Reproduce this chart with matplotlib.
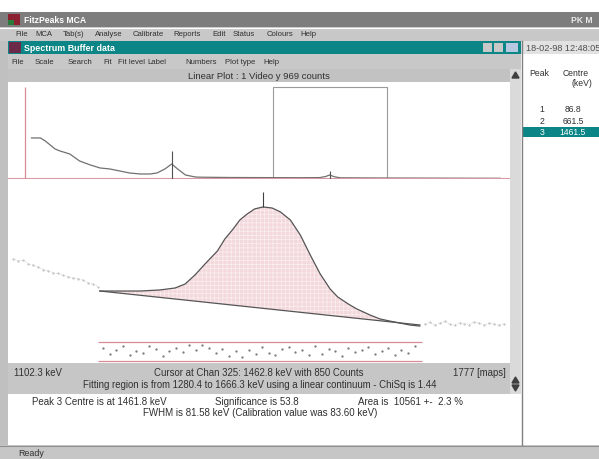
import matplotlib
matplotlib.use("Agg")
import matplotlib.pyplot as plt
from matplotlib.patches import Rectangle, Polygon
import numpy as np

W, H = 599, 460

# overview spectrum (channel, counts)
spec_chan = [24, 33, 38, 48, 53, 63, 73, 84, 94, 104, 114, 124, 135, 145, 152, 160,
             167, 173, 181, 191, 196, 226, 257, 298, 318, 324, 328, 333, 339, 380, 420, 461, 502]
spec_counts = [410, 410, 380, 300, 280, 250, 180, 140, 110, 100, 80, 60, 50, 50, 60, 100,
               150, 100, 40, 20, 18, 15, 14, 13, 14, 25, 40, 22, 12, 10, 9, 8, 7]
marker_chan = 17
peak_chans = [167, 328]
peak_tick_top = [280, 80]
zoom_lo, zoom_hi, zoom_top = 270, 387, 919

# fitted peak (keV, counts)
fit_kev = [1280, 1305, 1329, 1353, 1371, 1383, 1395, 1407, 1422, 1431, 1441, 1449, 1458,
           1467, 1477, 1488, 1498, 1510, 1522, 1534, 1546, 1558, 1567, 1580, 1590, 1606,
           1618, 1630, 1642, 1654, 1666]
fit_counts = [380, 380, 380, 386, 397, 419, 470, 531, 604, 671, 727, 777, 811, 839, 850,
              844, 822, 777, 693, 581, 475, 391, 347, 307, 280, 246, 224, 212, 201, 190, 184]
base_kev = [1280.4, 1666.3]
base_counts = [380, 190]

# raw data outside the fit
left_kev = [1176, 1182, 1188, 1194, 1200, 1206, 1212, 1218, 1224, 1230, 1236, 1242, 1248,
            1254, 1260, 1266, 1272, 1278]
left_counts = [560, 548, 552, 532, 524, 512, 500, 494, 481, 478, 467, 461, 452, 449, 440,
               426, 418, 405]
right_kev = [1672, 1678, 1684, 1690, 1696, 1702, 1708, 1714, 1720, 1726, 1732, 1738, 1744,
             1750, 1756, 1762, 1768]
right_counts = [195, 205, 190, 200, 210, 196, 188, 204, 198, 192, 207, 199, 190, 201, 196,
                188, 197]

# residuals
res_kev = np.arange(1284, 1661, 8)
res_vals = [1.2, -0.8, 0.4, 1.6, -1.1, 0.2, -0.5, 1.8, 0.9, -1.4, 0.3, 1.1, -0.2, 1.9, 0.6,
            2.1, 1.0, -0.6, 0.8, -1.3, 0.1, -1.7, 0.5, -0.9, 1.3, -0.4, -1.2, 0.7, 1.5, -0.1,
            0.4, -1.0, 1.7, -0.7, 0.9, 0.2, -1.5, 1.2, -0.3, 0.6, 1.4, -0.8, 0.3, 1.0, -1.1,
            0.5, -0.6, 1.6]

table_peaks = ["1", "2", "3"]
table_centres = ["86.8", "661.5", "1461.5"]

menu1 = [("File", 15), ("MCA", 35), ("Tab(s)", 63), ("Analyse", 95), ("Calibrate", 133),
         ("Reports", 173), ("Edit", 212), ("Status", 233), ("Colours", 267), ("Help", 300)]
menu2 = [("File", 11), ("Scale", 35), ("Search", 68), ("Fit", 103), ("Fit level", 118),
         ("Label", 147), ("Numbers", 185), ("Plot type", 225), ("Help", 263)]

plt.rcParams['font.family'] = ['Liberation Sans', 'DejaVu Sans']
FS = 5.6     # menus
FB = 6.9     # status / info lines
TXT = '#303030'

fig = plt.figure(figsize=(W / 100, H / 100), dpi=100)
fig.patch.set_facecolor('white')
ax0 = fig.add_axes([0, 0, 1, 1])
ax0.set_xlim(0, W)
ax0.set_ylim(H, 0)
ax0.axis('off')


def rect(x0, y0, x1, y1, c, **kw):
    ax0.add_patch(Rectangle((x0, y0), x1 - x0, y1 - y0, facecolor=c, edgecolor='none', **kw))


def px_axes(x0, y0, x1, y1):
    a = fig.add_axes([x0 / W, 1 - y1 / H, (x1 - x0) / W, (y1 - y0) / H])
    a.patch.set_alpha(0)
    a.axis('off')
    return a


# window chrome
rect(0, 13, W, 28, '#7d7d7d')
rect(8, 15, 20, 26, '#8a2030')
rect(8, 21, 14, 26, '#2a7a3a')
ax0.text(24, 20.5, "FitzPeaks MCA", color='white', fontsize=6.2, fontweight='bold', va='center')
ax0.text(571, 20.5, "PK M", color='#e8e8e8', fontsize=6.2, fontweight='bold', va='center')
rect(0, 28, W, 42, '#c8c8c8')
ax0.plot([0, W], [28.5, 28.5], color='white', lw=0.8)
for name, x in menu1:
    ax0.text(x, 35, name, color=TXT, fontsize=FS, va='center')
rect(0, 42, 8, 446, '#c0c0c0')
rect(8, 42, 521, 55, '#0b8585')
rect(9, 43, 21, 54, '#6a2a48')
ax0.text(24, 48.5, "Spectrum Buffer data", color='white', fontsize=6.4, fontweight='bold', va='center')
for bx0, bx1, bc in [(483, 492, '#c8c8c8'), (494, 503, '#c8c8c8'), (506, 518, '#b8c8e0')]:
    rect(bx0, 44, bx1, 53, bc)
rect(521, 42, W, 55, '#e2e2e2')
ax0.text(526, 48.5, "18-02-98 12:48:05", color='#505050', fontsize=6.6, va='center',
         clip_on=True)
rect(8, 55, 521, 70, '#c8c8c8')
for name, x in menu2:
    ax0.text(x, 62.5, name, color=TXT, fontsize=FS, va='center')
rect(8, 70, 510, 83, '#c2c2c2')
ax0.text(259, 76.5, "Linear Plot : 1 Video y 969 counts", color=TXT, fontsize=6.8,
         ha='center', va='center')
rect(510, 70, 521, 395, '#dadada')
ax0.add_patch(Polygon([[512, 79], [519, 79], [515.5, 73]], color='#404040'))
ax0.add_patch(Polygon([[512, 386], [519, 386], [515.5, 392]], color='#404040'))
ax0.add_patch(Polygon([[512, 384], [519, 384], [515.5, 378]], color='#404040'))
ax0.plot([521.5, 521.5], [42, 446], color='#808080', lw=1)

# status area
rect(8, 364, 510, 395, '#c6c6c6')
ax0.text(14, 373.5, "1102.3 keV", color=TXT, fontsize=FB, va='center')
ax0.text(259, 373.5, "Cursor at Chan 325: 1462.8 keV with 850 Counts", color=TXT,
         fontsize=FB, ha='center', va='center')
ax0.text(506, 373.5, "1777 [maps]", color=TXT, fontsize=FB, ha='right', va='center')
ax0.text(260, 385.5, "Fitting region is from 1280.4 to 1666.3 keV using a linear continuum - ChiSq is 1.44",
         color=TXT, fontsize=FB, ha='center', va='center')
ax0.text(32, 402, "Peak 3 Centre is at 1461.8 keV", color=TXT, fontsize=7.0, va='center')
ax0.text(215, 402, "Significance is 53.8", color=TXT, fontsize=7.0, va='center')
ax0.text(358, 402, "Area is  10561 +-  2.3 %", color=TXT, fontsize=7.0, va='center')
ax0.text(260, 413, "FWHM is 81.58 keV (Calibration value was 83.60 keV)", color=TXT,
         fontsize=7.0, ha='center', va='center')
rect(0, 446, W, H, '#c6c6c6')
ax0.plot([0, W], [446.5, 446.5], color='#909090', lw=0.8)
ax0.text(18, 454, "Ready", color=TXT, fontsize=6.4, va='center')

# peak table
ax0.text(529, 73, "Peak", color=TXT, fontsize=6.2, va='center')
ax0.text(563, 73, "Centre", color=TXT, fontsize=6.2, va='center')
ax0.text(571, 84, "(keV)", color=TXT, fontsize=6.2, va='center')
for i, (p, c) in enumerate(zip(table_peaks, table_centres)):
    y = 110 + i * 11.5
    col = TXT
    if i == 2:
        rect(522, y - 5, W, y + 5, '#0b8585')
        col = 'white'
    ax0.text(542, y, p, color=col, fontsize=6.2, ha='center', va='center')
    ax0.text(573, y, c, color=col, fontsize=6.2, ha='center', va='center')

# overview plot
ax_top = px_axes(8, 83, 510, 180)
ax_top.set_xlim(0, 512)
ax_top.set_ylim(0, 969)
ax_top.plot(spec_chan, spec_counts, color='#707070', lw=0.9)
ax_top.axhline(0, color='#d89aa2', lw=1.5)
ax_top.vlines(marker_chan, 0, zoom_top, color='#d88c96', lw=0.9)
ax_top.vlines(peak_chans, 0, peak_tick_top, color='#505050', lw=0.8)
ax_top.add_patch(Rectangle((zoom_lo, 0), zoom_hi - zoom_lo, zoom_top, fill=False,
                           edgecolor='#9a9a9a', lw=0.8))

# zoomed peak plot
plt.rcParams['hatch.linewidth'] = 0.5
ax_low = px_axes(8, 182, 510, 360)
ax_low.set_xlim(1169.4, 1774.9)
ax_low.set_ylim(0, 995)
poly_x = list(fit_kev) + base_kev[::-1]
poly_y = list(fit_counts) + base_counts[::-1]
ax_low.fill(poly_x, poly_y, facecolor='#f3d8dc', edgecolor='#fbeff1', hatch='++++', lw=0)
ax_low.plot(left_kev, left_counts, color='#b8b8b8', lw=0.5, ls=':', marker='.', ms=1.0)
ax_low.plot(right_kev, right_counts, color='#b8b8b8', lw=0.5, ls=':', marker='.', ms=1.0)
ax_low.plot(base_kev, base_counts, color='#555555', lw=0.9)
ax_low.plot(fit_kev, fit_counts, color='#555555', lw=0.9)
ax_low.vlines(1477, 850, 935, color='#404040', lw=0.8)

# residuals
ax_res = px_axes(8, 341, 510, 364)
ax_res.set_xlim(1169.4, 1774.9)
ax_res.set_ylim(-3.6, 3.6)
ax_res.hlines([2.9, -2.9], base_kev[0] - 3, base_kev[1] + 3, color='#d88c96', lw=0.9)
ax_res.plot(res_kev, res_vals, ls='none', marker='.', ms=1.2, color='#707070')

fig.savefig('out.png', dpi=100)
